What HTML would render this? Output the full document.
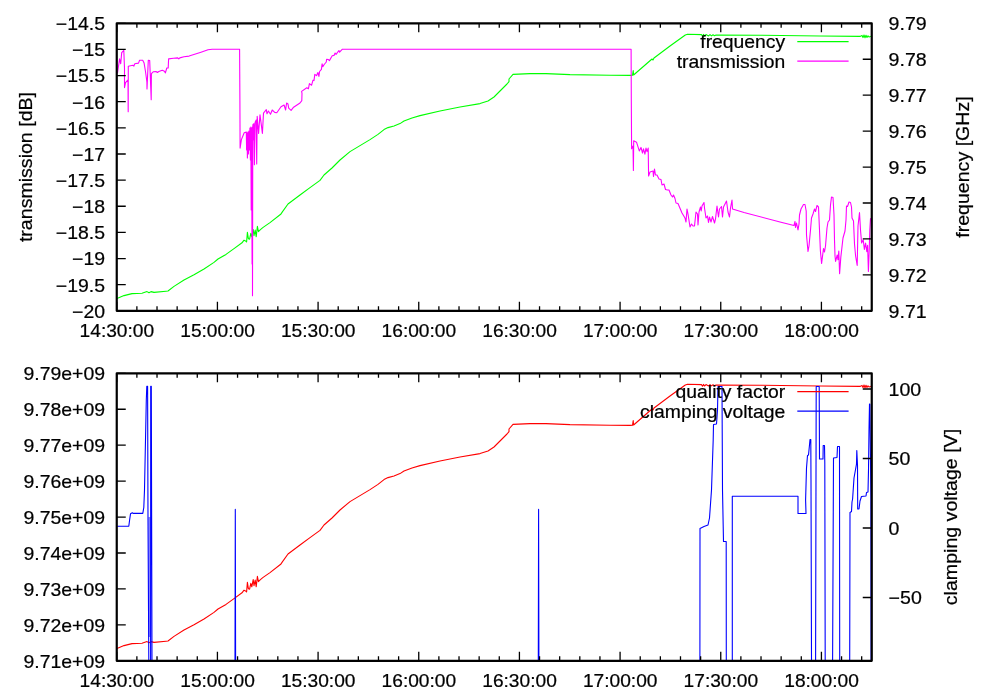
<!DOCTYPE html>
<html><head><meta charset="utf-8"><title>plot</title>
<style>
html,body{margin:0;padding:0;background:#fff;}
body{width:1000px;height:700px;overflow:hidden;}
svg{display:block;will-change:transform;transform:translateZ(0);}
text{font-family:"Liberation Sans",sans-serif;font-size:18px;letter-spacing:0px;fill:#000;stroke:#000;stroke-width:0.22px;}
.fr{fill:none;stroke:#000;stroke-width:2.2;stroke-linejoin:round;}
.tk{fill:none;stroke:#000;stroke-width:1.3;}
.ln{fill:none;stroke-width:1.1;stroke-linejoin:round;stroke-linecap:round;}
</style></head><body>
<svg width="1000" height="700" viewBox="0 0 1000 700">
<path class="ln" stroke="#00ff00" d="M117.0 298.4L124.0 295.6L132.0 293.6L142.0 293.2L147.0 291.6L149.0 292.8L151.0 291.6L154.0 292.4L166.0 291.2L168.0 291.0L174.0 286.4L184.0 280.0L194.0 274.8L204.0 269.0L214.0 262.4L218.0 259.0L226.0 254.4L234.0 248.6L242.0 242.8L244.0 240.2L246.0 241.2L246.6 242.0L247.4 232.4L248.4 238.8L249.6 239.2L250.8 233.4L251.8 236.8L253.2 229.6L254.0 235.6L255.2 230.0L256.2 236.8L257.4 226.4L258.4 231.6L260.4 229.6L262.8 227.6L266.0 225.4L270.0 222.6L281.0 214.0L282.0 212.4L288.0 204.0L300.0 195.0L310.0 187.6L320.0 180.4L324.0 175.0L332.0 168.0L340.0 160.0L350.0 151.6L360.0 145.6L370.0 139.6L378.0 134.4L384.0 129.6L388.0 127.6L394.0 126.0L400.0 123.6L404.0 121.0L412.0 118.0L420.0 115.6L440.0 111.0L460.0 107.0L480.0 103.6L488.0 101.0L494.0 97.0L500.0 91.0L507.0 84.0L509.0 81.6L509.0 79.0L513.0 74.4L530.0 73.6L546.0 73.6L570.0 74.6L610.0 75.2L630.0 75.4L632.5 75.3L633.2 70.5L633.6 75.0L652.0 59.0L653.0 60.0L654.0 58.0L670.0 46.0L685.3 35.0L687.5 34.3L701.5 34.6L702.5 36.2L703.5 34.4L704.5 36.0L706.0 34.6L708.5 35.9L710.0 34.6L711.5 35.9L713.0 34.8L714.5 35.7L716.0 35.0L760.0 35.2L820.0 36.0L860.0 36.4L862.0 35.4L863.0 37.6L864.0 35.0L865.0 37.8L866.0 35.2L867.0 37.4L868.0 35.8L869.0 37.0L870.5 36.4"/>
<path class="ln" stroke="#ff00ff" d="M117.5 72.9L119.6 58.9L120.7 63.8L121.7 52.6L123.8 50.5L124.5 68.0L124.5 87.6L125.5 82.7L128.0 79.9L128.2 111.8L128.3 66.2L132.9 65.2L133.9 66.2L134.7 63.8L138.5 63.1L139.6 60.3L142.7 60.3L144.1 63.1L145.5 71.5L146.9 82.0L147.0 89.0L148.3 60.3L149.7 60.6L151.2 99.8L151.4 73.6L153.2 71.8L156.0 71.5L157.4 72.5L158.8 71.5L162.3 70.2L164.4 71.2L165.4 72.9L166.8 68.0L168.2 68.0L168.6 58.9L173.5 58.2L177.7 57.9L178.8 58.9L179.8 57.9L184.0 56.8L189.1 56.1L201.0 52.2L208.0 49.8L212.2 49.2L239.6 49.2L239.9 100.0L240.1 148.1L241.4 139.6L244.2 132.7L246.3 132.0L246.6 150.0L247.0 133.0L247.4 158.0L247.9 132.0L248.4 154.0L248.9 131.0L249.4 150.0L249.9 128.0L250.4 160.0L250.8 127.0L251.2 210.0L251.5 128.0L252.1 264.0L252.3 127.0L252.5 295.7L252.8 126.0L253.0 124.3L253.4 140.0L253.9 123.5L254.4 164.8L255.1 122.2L256.2 120.0L256.7 164.0L257.2 116.2L258.6 133.4L260.0 114.8L260.7 120.1L262.4 133.4L263.5 113.1L266.3 109.6L267.0 113.8L268.4 111.0L270.5 114.2L272.2 110.0L274.7 112.4L276.8 112.8L281.0 106.8L284.1 105.0L285.6 110.0L286.6 103.0L288.0 104.0L288.7 108.2L291.1 110.3L293.6 107.2L300.0 103.0L301.8 100.6L302.0 93.4L301.6 91.4L306.8 87.8L308.4 88.8L309.4 83.6L311.6 85.2L313.0 80.2L314.0 80.6L314.8 74.3L316.5 75.7L317.9 72.5L318.9 76.4L319.6 71.5L321.4 69.4L322.1 63.8L322.8 66.6L324.2 64.5L326.3 62.0L326.6 59.2L328.4 59.6L329.4 60.6L332.2 55.8L334.0 55.4L335.1 53.0L336.1 54.4L338.9 50.5L339.6 52.2L342.4 49.2L631.1 49.2L631.3 100.0L631.6 148.8L633.0 146.0L633.4 170.5L633.7 140.8L636.5 142.2L639.3 150.9L641.0 147.4L642.5 153.0L643.5 148.8L644.9 154.1L646.0 148.1L647.0 151.6L648.2 148.1L648.6 176.0L650.0 172.0L653.0 171.0L653.5 176.5L654.5 169.0L655.5 175.0L657.0 175.0L659.0 179.0L661.0 179.5L662.0 185.0L664.0 184.0L665.5 189.5L667.5 190.0L669.0 190.0L671.0 195.0L672.5 197.0L673.5 195.0L675.0 198.5L676.0 203.0L678.0 203.5L682.0 213.0L685.0 218.0L686.0 222.0L687.0 209.0L688.0 214.0L690.0 227.0L691.5 224.0L693.0 226.0L694.5 226.0L696.0 212.0L697.5 214.0L698.0 225.0L699.0 212.0L700.5 207.0L701.2 211.0L702.0 206.0L704.0 202.5L704.5 208.0L706.0 218.0L707.5 216.0L708.5 222.5L709.5 217.0L711.0 222.0L712.5 216.5L714.5 223.0L715.5 219.0L717.0 206.0L718.5 217.0L719.5 209.0L721.5 206.5L722.5 217.0L723.5 207.0L725.0 204.0L726.5 201.0L728.0 212.0L729.5 217.0L730.5 208.0L732.0 200.0L732.5 209.0L744.0 212.5L780.0 222.0L794.0 225.5L795.0 221.5L795.5 227.5L796.5 223.0L798.0 230.0L799.0 224.0L799.5 215.0L801.0 209.0L803.5 204.5L805.0 204.5L806.2 211.0L806.5 235.0L808.0 251.5L809.0 246.0L810.5 230.0L811.5 218.0L813.0 214.0L814.5 209.0L815.5 211.5L817.0 205.5L818.5 207.0L819.5 230.0L820.4 251.0L821.6 263.4L823.5 248.5L824.5 252.0L825.5 246.0L827.0 228.0L828.0 222.0L829.5 220.0L830.5 205.0L831.5 197.0L833.0 197.5L834.0 215.0L834.5 240.0L835.0 256.0L835.6 261.4L837.2 255.0L838.0 259.8L838.8 251.0L839.6 273.8L840.8 257.4L843.0 238.0L845.0 231.0L846.0 220.0L846.5 206.0L847.5 206.5L849.0 202.0L850.5 202.5L851.5 207.0L852.0 218.0L853.5 221.0L854.5 244.0L855.6 256.0L857.2 265.4L858.0 226.0L859.5 212.5L860.5 230.0L861.6 243.0L863.2 239.8L864.4 249.4L865.6 243.0L866.8 251.8L867.6 245.4L868.4 271.4L869.2 251.0L869.8 230.0L870.5 218.5"/>
<path class="tk" d="M116.75 310.80v-9.00M116.75 23.30v9.00M136.88 310.80v-4.50M136.88 23.30v4.50M157.02 310.80v-4.50M157.02 23.30v4.50M177.15 310.80v-4.50M177.15 23.30v4.50M197.28 310.80v-4.50M197.28 23.30v4.50M217.42 310.80v-9.00M217.42 23.30v9.00M237.55 310.80v-4.50M237.55 23.30v4.50M257.68 310.80v-4.50M257.68 23.30v4.50M277.82 310.80v-4.50M277.82 23.30v4.50M297.95 310.80v-4.50M297.95 23.30v4.50M318.08 310.80v-9.00M318.08 23.30v9.00M338.22 310.80v-4.50M338.22 23.30v4.50M358.35 310.80v-4.50M358.35 23.30v4.50M378.48 310.80v-4.50M378.48 23.30v4.50M398.62 310.80v-4.50M398.62 23.30v4.50M418.75 310.80v-9.00M418.75 23.30v9.00M438.88 310.80v-4.50M438.88 23.30v4.50M459.02 310.80v-4.50M459.02 23.30v4.50M479.15 310.80v-4.50M479.15 23.30v4.50M499.28 310.80v-4.50M499.28 23.30v4.50M519.42 310.80v-9.00M519.42 23.30v9.00M539.55 310.80v-4.50M539.55 23.30v4.50M559.68 310.80v-4.50M559.68 23.30v4.50M579.82 310.80v-4.50M579.82 23.30v4.50M599.95 310.80v-4.50M599.95 23.30v4.50M620.08 310.80v-9.00M620.08 23.30v9.00M640.22 310.80v-4.50M640.22 23.30v4.50M660.35 310.80v-4.50M660.35 23.30v4.50M680.48 310.80v-4.50M680.48 23.30v4.50M700.62 310.80v-4.50M700.62 23.30v4.50M720.75 310.80v-9.00M720.75 23.30v9.00M740.88 310.80v-4.50M740.88 23.30v4.50M761.02 310.80v-4.50M761.02 23.30v4.50M781.15 310.80v-4.50M781.15 23.30v4.50M801.28 310.80v-4.50M801.28 23.30v4.50M821.42 310.80v-9.00M821.42 23.30v9.00M841.55 310.80v-4.50M841.55 23.30v4.50M861.68 310.80v-4.50M861.68 23.30v4.50M116.75 23.30h9M116.75 49.44h9M116.75 75.57h9M116.75 101.71h9M116.75 127.85h9M116.75 153.98h9M116.75 180.12h9M116.75 206.25h9M116.75 232.39h9M116.75 258.53h9M116.75 284.66h9M116.75 310.80h9M871.75 23.30h-9M871.75 59.24h-9M871.75 95.17h-9M871.75 131.11h-9M871.75 167.05h-9M871.75 202.99h-9M871.75 238.93h-9M871.75 274.86h-9M871.75 310.80h-9"/>
<rect class="fr" x="116.75" y="23.30" width="755.00" height="287.50"/>
<text transform="translate(105.00 30.20) scale(1.08 1)" text-anchor="end">−14.5</text>
<text transform="translate(105.00 56.34) scale(1.08 1)" text-anchor="end">−15</text>
<text transform="translate(105.00 82.47) scale(1.08 1)" text-anchor="end">−15.5</text>
<text transform="translate(105.00 108.61) scale(1.08 1)" text-anchor="end">−16</text>
<text transform="translate(105.00 134.75) scale(1.08 1)" text-anchor="end">−16.5</text>
<text transform="translate(105.00 160.88) scale(1.08 1)" text-anchor="end">−17</text>
<text transform="translate(105.00 187.02) scale(1.08 1)" text-anchor="end">−17.5</text>
<text transform="translate(105.00 213.15) scale(1.08 1)" text-anchor="end">−18</text>
<text transform="translate(105.00 239.29) scale(1.08 1)" text-anchor="end">−18.5</text>
<text transform="translate(105.00 265.43) scale(1.08 1)" text-anchor="end">−19</text>
<text transform="translate(105.00 291.56) scale(1.08 1)" text-anchor="end">−19.5</text>
<text transform="translate(105.00 317.70) scale(1.08 1)" text-anchor="end">−20</text>
<text transform="translate(888.60 30.20) scale(1.088 1)">9.79</text>
<text transform="translate(888.60 66.14) scale(1.088 1)">9.78</text>
<text transform="translate(888.60 102.08) scale(1.088 1)">9.77</text>
<text transform="translate(888.60 138.01) scale(1.088 1)">9.76</text>
<text transform="translate(888.60 173.95) scale(1.088 1)">9.75</text>
<text transform="translate(888.60 209.89) scale(1.088 1)">9.74</text>
<text transform="translate(888.60 245.83) scale(1.088 1)">9.73</text>
<text transform="translate(888.60 281.76) scale(1.088 1)">9.72</text>
<text transform="translate(888.60 317.70) scale(1.088 1)">9.71</text>
<text transform="translate(116.85 337.20) scale(1.065 1)" text-anchor="middle">14:30:00</text>
<text transform="translate(217.52 337.20) scale(1.065 1)" text-anchor="middle">15:00:00</text>
<text transform="translate(318.18 337.20) scale(1.065 1)" text-anchor="middle">15:30:00</text>
<text transform="translate(418.85 337.20) scale(1.065 1)" text-anchor="middle">16:00:00</text>
<text transform="translate(519.52 337.20) scale(1.065 1)" text-anchor="middle">16:30:00</text>
<text transform="translate(620.18 337.20) scale(1.065 1)" text-anchor="middle">17:00:00</text>
<text transform="translate(720.85 337.20) scale(1.065 1)" text-anchor="middle">17:30:00</text>
<text transform="translate(821.52 337.20) scale(1.065 1)" text-anchor="middle">18:00:00</text>
<text transform="translate(32.00 167.05) rotate(-90) scale(1.088 1)" text-anchor="middle">transmission [dB]</text>
<text transform="translate(968.70 167.05) rotate(-90) scale(1.088 1)" text-anchor="middle">frequency [GHz]</text>
<text transform="translate(785.20 47.50) scale(1.075 1)" text-anchor="end">frequency</text>
<path d="M797.3 41.60H848.6" stroke="#00ff00" stroke-width="1.1" fill="none"/>
<text transform="translate(785.20 67.50) scale(1.075 1)" text-anchor="end">transmission</text>
<path d="M797.3 61.10H848.6" stroke="#ff00ff" stroke-width="1.1" fill="none"/>
<path class="ln" stroke="#ff0000" d="M117.0 648.4L124.0 645.6L132.0 643.6L142.0 643.2L147.0 641.6L149.0 642.8L151.0 641.6L154.0 642.4L166.0 641.2L168.0 641.0L174.0 636.4L184.0 630.0L194.0 624.8L204.0 619.0L214.0 612.4L218.0 609.0L226.0 604.4L234.0 598.6L242.0 592.8L244.0 590.2L246.0 591.2L246.6 592.0L247.4 582.4L248.4 588.8L249.6 589.2L250.8 583.4L251.8 586.8L253.2 579.6L254.0 585.6L255.2 580.0L256.2 586.8L257.4 576.4L258.4 581.6L260.4 579.6L262.8 577.6L266.0 575.4L270.0 572.6L281.0 564.0L282.0 562.4L288.0 554.0L300.0 545.0L310.0 537.6L320.0 530.4L324.0 525.0L332.0 518.0L340.0 510.0L350.0 501.6L360.0 495.6L370.0 489.6L378.0 484.4L384.0 479.6L388.0 477.6L394.0 476.0L400.0 473.6L404.0 471.0L412.0 468.0L420.0 465.6L440.0 461.0L460.0 457.0L480.0 453.6L488.0 451.0L494.0 447.0L500.0 441.0L507.0 434.0L509.0 431.6L509.0 429.0L513.0 424.4L530.0 423.6L546.0 423.6L570.0 424.6L610.0 425.2L630.0 425.4L632.5 425.3L633.2 420.5L633.6 425.0L652.0 409.0L653.0 410.0L654.0 408.0L670.0 396.0L685.3 385.0L687.5 384.3L701.5 384.6L702.5 386.2L703.5 384.4L704.5 386.0L706.0 384.6L708.5 385.9L710.0 384.6L711.5 385.9L713.0 384.8L714.5 385.7L716.0 385.0L760.0 385.2L820.0 386.0L860.0 386.4L862.0 385.4L863.0 387.6L864.0 385.0L865.0 387.8L866.0 385.2L867.0 387.4L868.0 385.8L869.0 387.0L870.5 386.4"/>
<rect x="148.4" y="517" width="2.2" height="120" fill="#0000ff" opacity="0.5"/>
<path class="ln" stroke="#0000ff" d="M117.6 526.3L128.8 526.3L129.5 520.8L130.5 513.8L132.3 512.7L133.0 513.4L142.8 513.4L143.8 507.5L144.5 490.0L146.3 400.0L146.8 386.3L147.6 386.3L148.0 520.0L148.8 660.8M150.6 660.8L150.7 386.3L151.3 386.3L152.0 660.8M235.0 660.8L235.3 509.4L235.6 660.8M538.3 660.8L538.6 509.4L538.9 660.8M699.9 660.8L700.0 528.5L704.0 526.5L708.0 525.0L709.5 518.0L711.5 490.0L713.2 440.0L713.5 424.5L716.5 424.0L717.5 410.0L718.0 386.5L722.0 386.5L722.5 490.0L723.5 541.5L726.2 541.5L726.3 660.8M732.3 660.8L732.3 496.3L798.0 496.3L798.0 513.5L806.0 513.5L805.6 500.0L806.5 468.0L807.5 455.5L808.5 455.0L809.5 445.0L810.0 439.5L810.8 439.5L811.0 480.0L811.5 660.8M815.6 660.8L816.2 386.5L819.2 386.5L819.5 459.0L823.0 459.0L823.2 445.5L824.5 445.5L824.8 463.0L825.2 660.8M832.6 660.8L833.5 458.0L837.0 457.5L837.5 446.5L839.5 446.5L839.7 660.8M849.7 660.8L850.0 512.5L851.5 511.5L852.0 502.0L852.6 499.0L854.0 478.0L856.5 464.0L856.8 450.5L857.5 465.0L857.7 509.0L859.0 509.0L860.0 501.0L861.5 496.5L866.0 496.0L866.5 492.5L868.0 492.0L868.5 470.0L869.0 430.0L869.5 404.0L869.9 404.0L870.9 500.0L871.1 660.8"/>
<path class="tk" d="M116.75 660.80v-9.00M116.75 373.30v9.00M136.88 660.80v-4.50M136.88 373.30v4.50M157.02 660.80v-4.50M157.02 373.30v4.50M177.15 660.80v-4.50M177.15 373.30v4.50M197.28 660.80v-4.50M197.28 373.30v4.50M217.42 660.80v-9.00M217.42 373.30v9.00M237.55 660.80v-4.50M237.55 373.30v4.50M257.68 660.80v-4.50M257.68 373.30v4.50M277.82 660.80v-4.50M277.82 373.30v4.50M297.95 660.80v-4.50M297.95 373.30v4.50M318.08 660.80v-9.00M318.08 373.30v9.00M338.22 660.80v-4.50M338.22 373.30v4.50M358.35 660.80v-4.50M358.35 373.30v4.50M378.48 660.80v-4.50M378.48 373.30v4.50M398.62 660.80v-4.50M398.62 373.30v4.50M418.75 660.80v-9.00M418.75 373.30v9.00M438.88 660.80v-4.50M438.88 373.30v4.50M459.02 660.80v-4.50M459.02 373.30v4.50M479.15 660.80v-4.50M479.15 373.30v4.50M499.28 660.80v-4.50M499.28 373.30v4.50M519.42 660.80v-9.00M519.42 373.30v9.00M539.55 660.80v-4.50M539.55 373.30v4.50M559.68 660.80v-4.50M559.68 373.30v4.50M579.82 660.80v-4.50M579.82 373.30v4.50M599.95 660.80v-4.50M599.95 373.30v4.50M620.08 660.80v-9.00M620.08 373.30v9.00M640.22 660.80v-4.50M640.22 373.30v4.50M660.35 660.80v-4.50M660.35 373.30v4.50M680.48 660.80v-4.50M680.48 373.30v4.50M700.62 660.80v-4.50M700.62 373.30v4.50M720.75 660.80v-9.00M720.75 373.30v9.00M740.88 660.80v-4.50M740.88 373.30v4.50M761.02 660.80v-4.50M761.02 373.30v4.50M781.15 660.80v-4.50M781.15 373.30v4.50M801.28 660.80v-4.50M801.28 373.30v4.50M821.42 660.80v-9.00M821.42 373.30v9.00M841.55 660.80v-4.50M841.55 373.30v4.50M861.68 660.80v-4.50M861.68 373.30v4.50M116.75 373.30h9M116.75 409.24h9M116.75 445.18h9M116.75 481.11h9M116.75 517.05h9M116.75 552.99h9M116.75 588.92h9M116.75 624.86h9M116.75 660.80h9M871.75 389.00h-9M871.75 458.50h-9M871.75 528.00h-9M871.75 597.50h-9"/>
<rect class="fr" x="116.75" y="373.30" width="755.00" height="287.50"/>
<text transform="translate(105.00 380.20) scale(1.08 1)" text-anchor="end">9.79e+09</text>
<text transform="translate(105.00 416.14) scale(1.08 1)" text-anchor="end">9.78e+09</text>
<text transform="translate(105.00 452.07) scale(1.08 1)" text-anchor="end">9.77e+09</text>
<text transform="translate(105.00 488.01) scale(1.08 1)" text-anchor="end">9.76e+09</text>
<text transform="translate(105.00 523.95) scale(1.08 1)" text-anchor="end">9.75e+09</text>
<text transform="translate(105.00 559.89) scale(1.08 1)" text-anchor="end">9.74e+09</text>
<text transform="translate(105.00 595.82) scale(1.08 1)" text-anchor="end">9.73e+09</text>
<text transform="translate(105.00 631.76) scale(1.08 1)" text-anchor="end">9.72e+09</text>
<text transform="translate(105.00 667.70) scale(1.08 1)" text-anchor="end">9.71e+09</text>
<text transform="translate(888.60 395.90) scale(1.088 1)">100</text>
<text transform="translate(888.60 465.40) scale(1.088 1)">50</text>
<text transform="translate(888.60 534.90) scale(1.088 1)">0</text>
<text transform="translate(888.60 604.40) scale(1.088 1)">−50</text>
<text transform="translate(116.85 687.20) scale(1.065 1)" text-anchor="middle">14:30:00</text>
<text transform="translate(217.52 687.20) scale(1.065 1)" text-anchor="middle">15:00:00</text>
<text transform="translate(318.18 687.20) scale(1.065 1)" text-anchor="middle">15:30:00</text>
<text transform="translate(418.85 687.20) scale(1.065 1)" text-anchor="middle">16:00:00</text>
<text transform="translate(519.52 687.20) scale(1.065 1)" text-anchor="middle">16:30:00</text>
<text transform="translate(620.18 687.20) scale(1.065 1)" text-anchor="middle">17:00:00</text>
<text transform="translate(720.85 687.20) scale(1.065 1)" text-anchor="middle">17:30:00</text>
<text transform="translate(821.52 687.20) scale(1.065 1)" text-anchor="middle">18:00:00</text>
<text transform="translate(957.20 517.05) rotate(-90) scale(1.088 1)" text-anchor="middle">clamping voltage [V]</text>
<text transform="translate(785.20 397.50) scale(1.075 1)" text-anchor="end">quality factor</text>
<path d="M797.3 391.60H848.6" stroke="#ff0000" stroke-width="1.1" fill="none"/>
<text transform="translate(785.20 417.50) scale(1.075 1)" text-anchor="end">clamping voltage</text>
<path d="M797.3 411.10H848.6" stroke="#0000ff" stroke-width="1.1" fill="none"/>
</svg>
</body></html>
